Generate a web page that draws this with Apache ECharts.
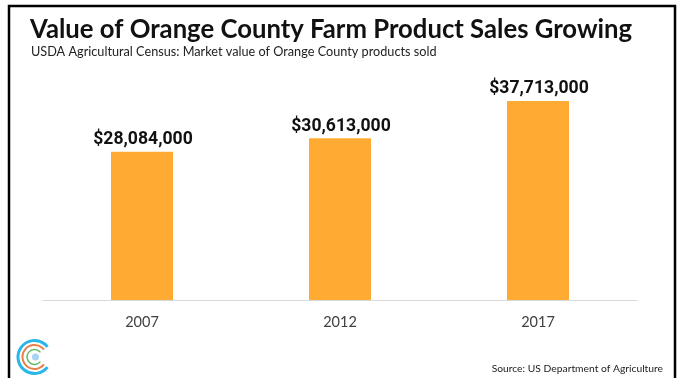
<!DOCTYPE html>
<html><head><meta charset="utf-8">
<style>html,body{margin:0;padding:0;background:#fff}#c{width:677px;height:378px}</style>
<script src="https://cdn.jsdelivr.net/npm/echarts@6/dist/echarts.min.js"></script>
</head><body><div id="c"></div>
<script>
const categories = ['2007','2012','2017'];
const values = [28084000,30613000,37713000];
const titleText = 'Value of Orange County Farm Product Sales Growing';
const subtitleText = 'USDA Agricultural Census: Market value of Orange County products sold';
const sourceText = 'Source: US Department of Agriculture';
const chart = echarts.init(document.getElementById('c'),null,{renderer:'canvas'});
function arc(r,w,color,a){
  const d=Math.PI/180;
  return {type:'arc',silent:true,shape:{cx:34.5,cy:357,r:r,startAngle:a*d,endAngle:(360-a)*d,clockwise:true},
    style:{stroke:color,lineWidth:w,fill:null,lineCap:'butt'}};
}
chart.setOption({
  animation:false,
  backgroundColor:'#fff',
  title:[
    {text:titleText,left:30,top:17,padding:0,textStyle:{fontFamily:'Lato',fontWeight:'bold',fontSize:25.7,color:'#111'}},
    {text:subtitleText,left:31,top:45,padding:0,textStyle:{fontFamily:'Lato',fontWeight:'normal',fontSize:12.7,color:'#222'}},
    {text:sourceText,right:14,top:364,padding:0,textStyle:{fontFamily:'Lato',fontWeight:'normal',fontSize:10.3,color:'#222'}}
  ],
  grid:{left:43,right:40,top:36,bottom:78},
  xAxis:{type:'category',data:categories,
    axisLine:{lineStyle:{color:'#d9d9d9',width:1}},axisTick:{show:false},
    axisLabel:{margin:15,fontFamily:'Lato',fontSize:14.5,color:'#404040'}},
  yAxis:{type:'value',min:0,max:50000000,show:false,splitLine:{show:false}},
  series:[{type:'bar',data:values,barWidth:62,itemStyle:{color:'#FFAB33'},
    label:{show:true,position:'top',distance:3,offset:[1,0],
      formatter:p=>'$'+p.value.toLocaleString('en-US'),
      fontFamily:'Roboto',fontWeight:'bold',fontSize:17.6,color:'#111'}}],
  graphic:[
    {type:'rect',silent:true,shape:{x:9,y:6,width:666,height:390},style:{fill:null,stroke:'#000',lineWidth:2.5}},
    arc(16.5,3,'#29B6E8',38),arc(12,2,'#E8804A',38),arc(7.5,1.5,'#66BB6A',38),
    {type:'circle',silent:true,shape:{cx:35.5,cy:357,r:3.5},style:{fill:'#A6D4F5'}}
  ]
});
</script></body></html>
